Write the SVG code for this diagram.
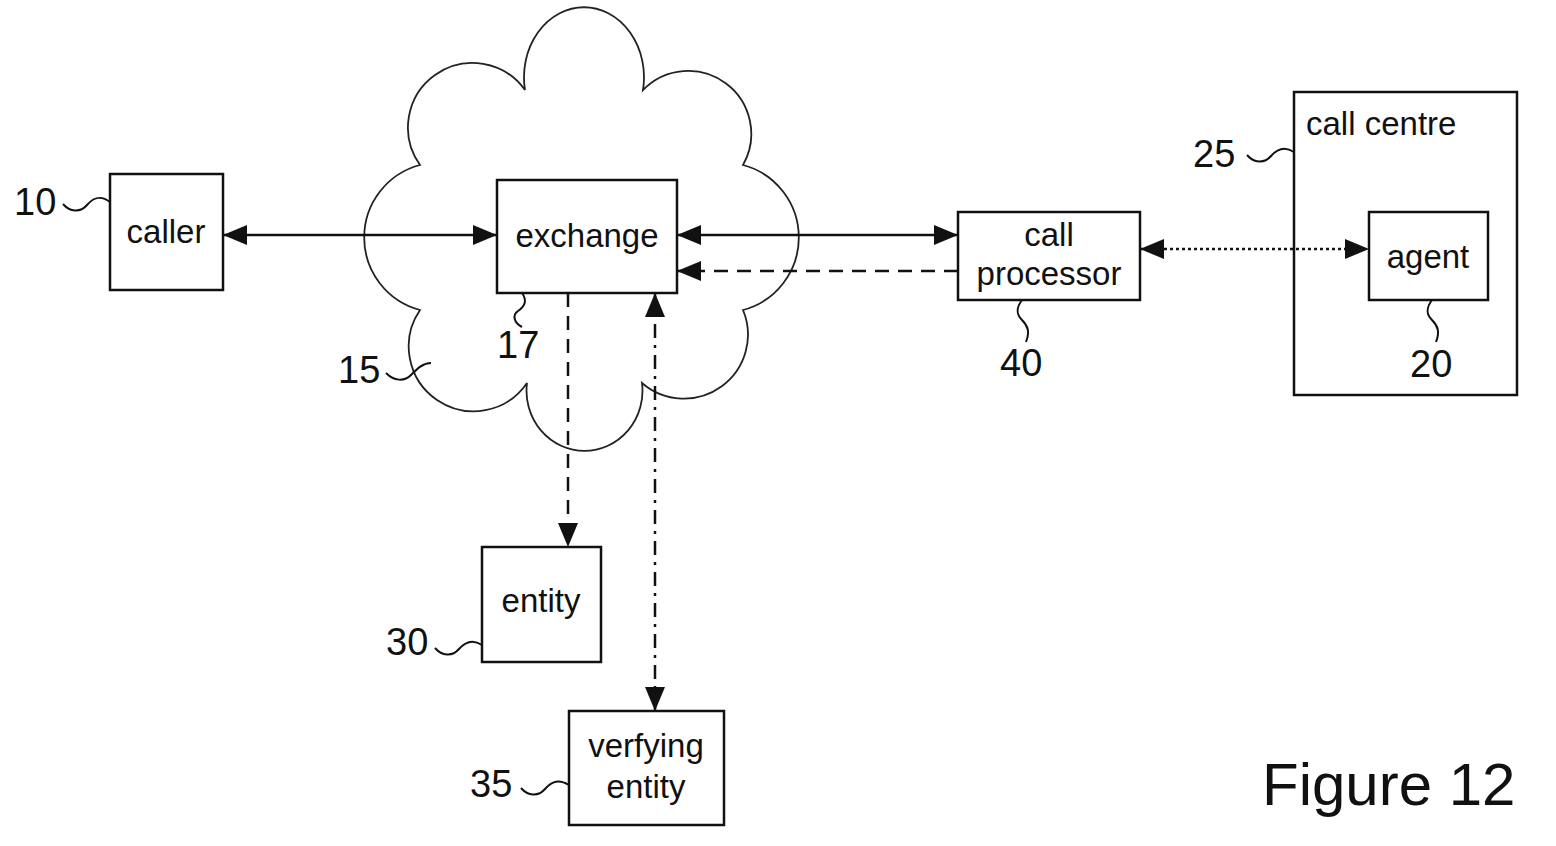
<svg xmlns="http://www.w3.org/2000/svg" width="1556" height="846" viewBox="0 0 1556 846">
<defs>
<style>
.box{fill:#fff;stroke:#111;stroke-width:2.5}
.frame{fill:none;stroke:#111;stroke-width:2.5}
.lbl{font-family:"Liberation Sans",Arial,sans-serif;font-size:33px;fill:#111}
.num{font-family:"Liberation Sans",Arial,sans-serif;font-size:38px;fill:#111}
.ldr{fill:none;stroke:#111;stroke-width:2}
.con{fill:none;stroke:#111;stroke-width:2.5}
.dash{stroke-dasharray:14,9}
.dot{stroke-dasharray:3,3}
.dd{stroke-dasharray:14,7,3,7}
</style>
<marker id="ah" viewBox="0 0 24 20" refX="24" refY="10" markerWidth="24" markerHeight="20" markerUnits="userSpaceOnUse" orient="auto-start-reverse">
<path d="M0,0 L24,10 L0,20 Z" fill="#111"/>
</marker>
</defs>
<rect width="1556" height="846" fill="#fff"/>

<g id="cloud">
<path d="M525,90 A60,70 0 1 1 643,90 A63,63 0 0 1 743,165 A75,75 0 0 1 743,310 A64,64 0 0 1 642,383 A58,60 0 1 1 527,383 A64,64 0 0 1 420,310 A75,75 0 0 1 420,165 A63,63 0 0 1 525,90 Z" fill="none" stroke="#222" stroke-width="1.8"/>
<path class="ldr" d="M386,373 c8,8 18,9 25,2 s12,-12 20,-12"/>
<text class="num" x="338" y="383">15</text>
</g>

<g id="callcentre">
<rect class="frame" x="1294" y="92" width="223" height="303"/>
<text class="lbl" x="1306" y="135">call centre</text>
<path class="ldr" d="M1247,155 c7,8 17,9 24,1 s14,-10 23,-4"/>
<text class="num" x="1193" y="167">25</text>
</g>

<g id="connectors">
<line class="con" x1="223" y1="235" x2="497" y2="235" marker-start="url(#ah)" marker-end="url(#ah)"/>
<line class="con" x1="677" y1="235" x2="958" y2="235" marker-start="url(#ah)" marker-end="url(#ah)"/>
<line class="con dash" x1="958" y1="271" x2="677" y2="271" marker-end="url(#ah)"/>
<line class="con dot" x1="1140" y1="249" x2="1369" y2="249" marker-start="url(#ah)" marker-end="url(#ah)"/>
<line class="con dash" x1="568" y1="293" x2="568" y2="547" marker-end="url(#ah)"/>
<line class="con dd" x1="655" y1="293" x2="655" y2="711" marker-start="url(#ah)" marker-end="url(#ah)"/>
</g>

<g id="caller">
<rect class="box" x="110" y="174" width="113" height="116"/>
<text class="lbl" x="166" y="243" text-anchor="middle">caller</text>
<path class="ldr" d="M63,204 c7,8 17,9 24,1 s14,-10 23,-3"/>
<text class="num" x="14" y="215">10</text>
</g>

<g id="exchange">
<rect class="box" x="497" y="180" width="180" height="113"/>
<text class="lbl" x="587" y="247" text-anchor="middle">exchange</text>
<path class="ldr" d="M522,293 c6,8 2,14 -4,18 s-4,12 4,16"/>
<text class="num" x="497" y="358">17</text>
</g>

<g id="callprocessor">
<rect class="box" x="958" y="212" width="182" height="88"/>
<text class="lbl" x="1049" y="246" text-anchor="middle">call</text>
<text class="lbl" x="1049" y="285" text-anchor="middle">processor</text>
<path class="ldr" d="M1022,300 c-6,8 -6,14 0,20 s8,12 4,22"/>
<text class="num" x="1000" y="376">40</text>
</g>

<g id="agent">
<rect class="box" x="1369" y="212" width="119" height="88"/>
<text class="lbl" x="1428" y="268" text-anchor="middle">agent</text>
<path class="ldr" d="M1432,300 c-6,8 -6,14 0,20 s8,12 4,22"/>
<text class="num" x="1410" y="377">20</text>
</g>

<g id="entity">
<rect class="box" x="482" y="547" width="119" height="115"/>
<text class="lbl" x="541" y="612" text-anchor="middle">entity</text>
<path class="ldr" d="M435,648 c7,8 17,9 24,1 s14,-10 23,-4"/>
<text class="num" x="386" y="655">30</text>
</g>

<g id="verifying">
<rect class="box" x="569" y="711" width="155" height="114"/>
<text class="lbl" x="646" y="757" text-anchor="middle">verfying</text>
<text class="lbl" x="646" y="798" text-anchor="middle">entity</text>
<path class="ldr" d="M521,788 c7,8 17,9 24,1 s14,-10 24,-4"/>
<text class="num" x="470" y="797">35</text>
</g>

<text x="1262" y="805" font-family="Liberation Sans, Arial, sans-serif" font-size="60" fill="#111">Figure 12</text>
</svg>
